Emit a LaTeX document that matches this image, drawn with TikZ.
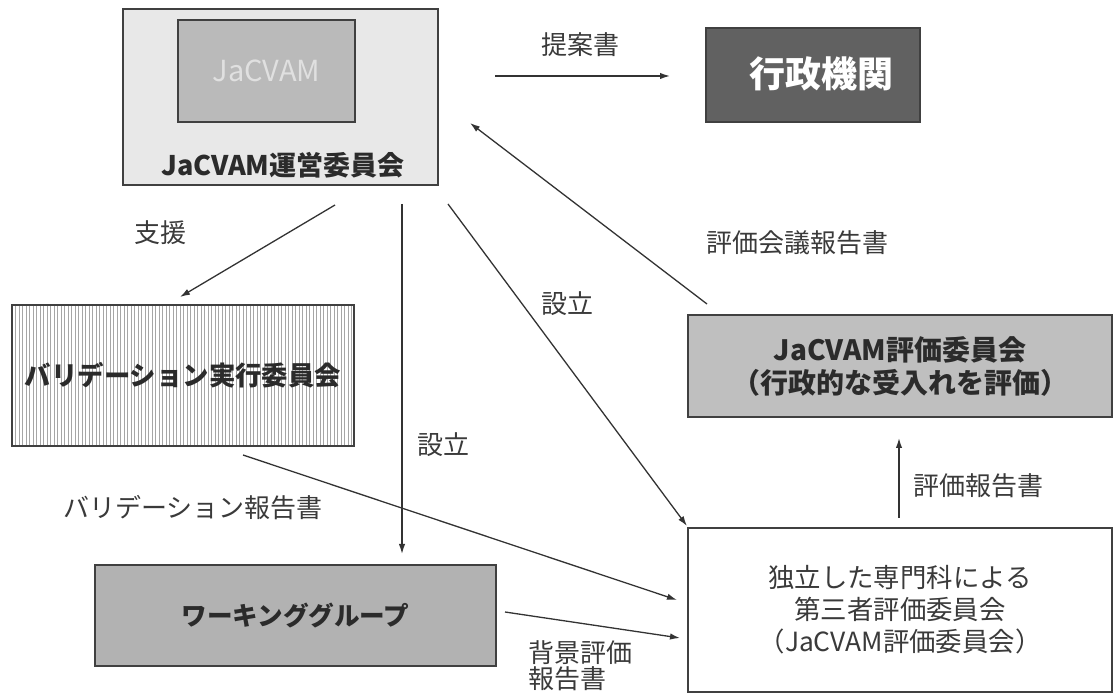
\documentclass[tikz,border=0pt]{standalone}
\usepackage{fontspec}
\setmainfont{Noto Sans CJK JP}
\usetikzlibrary{arrows.meta}
\definecolor{ink}{HTML}{2B2B2B}
\definecolor{lblink}{HTML}{3A3A3A}
\begin{document}
\begin{tikzpicture}[x=0.5pt,y=-0.5pt,
  every node/.style={inner sep=0pt, outer sep=0pt},
  box/.style={draw=black!75, line width=0.7pt},
  boldtxt/.style={font=\fontsize{13.5}{17}\selectfont\bfseries, text=ink, align=center},
  lbl/.style={font=\fontsize{13}{15}\selectfont, text=lblink},
  arr/.style={draw=black!80, line width=0.65pt, -{Latex[length=5pt,width=3.2pt]}},
  vlines/.style={path picture={
     \foreach \i in {1,...,98}
       \draw[black!35, line width=0.4pt]
         ([xshift=\i*1.75pt]path picture bounding box.north west) --
         ([xshift=\i*1.75pt]path picture bounding box.south west);}},
]
\useasboundingbox (0,0) rectangle (1116,700);

% boxes
\node[box, fill=black!9, minimum width=157.5pt, minimum height=88pt] (steer) at (280.5,97) {};
\node[box, fill=black!27, minimum width=88.5pt, minimum height=51pt,
      font=\fontsize{14.5}{16}\selectfont, text=black!12] (inner) at (266.5,71) {JaCVAM};
\node[boldtxt] (steerlbl) at (283,165) {JaCVAM運営委員会};

\node[box, fill=black!62, minimum width=107pt, minimum height=47pt] (gov) at (813,75) {};
\node[font=\fontsize{18}{20}\selectfont\bfseries, text=white] (govtxt) at (821,74) {行政機関};

\node[box, fill=white, vlines, minimum width=171pt, minimum height=70.5pt,
      boldtxt, font=\fontsize{13.2}{16}\selectfont\bfseries] (val) at (183,375.5) {バリデーション実行委員会};

\node[box, fill=black!30, minimum width=200.5pt, minimum height=50.5pt,
      boldtxt, font=\fontsize{12.8}{16}\selectfont\bfseries] (wg) at (295.5,615.5) {ワーキンググループ};

\node[box, fill=black!25, minimum width=212pt, minimum height=51pt,
      boldtxt, font=\fontsize{14}{16.5}\selectfont\bfseries] (eval) at (900,366)
      {JaCVAM評価委員会\\（行政的な受入れを評価）};

\node[box, fill=white, minimum width=212pt, minimum height=82pt, align=center,
      font=\fontsize{13.2}{16}\selectfont, text=lblink] (third) at (900,610)
      {独立した専門科による\\第三者評価委員会\\（JaCVAM評価委員会）};

% arrow endpoints
\coordinate (p1s) at (495,76);  \coordinate (p1e) at (670,76);
\coordinate (p2s) at (335,205); \coordinate (p2e) at (180,297);
\coordinate (p3s) at (402,204); \coordinate (p3e) at (402,554);
\coordinate (p4s) at (448,204); \coordinate (p4e) at (687,526);
\coordinate (p5s) at (707,304); \coordinate (p5e) at (470,123);
\coordinate (p6s) at (243,455); \coordinate (p6e) at (677,600);
\coordinate (p7s) at (505,612); \coordinate (p7e) at (680,638);
\coordinate (p8s) at (899,518); \coordinate (p8e) at (899,438);

\draw[arr] (p1s) -- (p1e);
\draw[arr] (p2s) -- (p2e);
\draw[arr] (p3s) -- (p3e);
\draw[arr] (p4s) -- (p4e);
\draw[arr] (p5s) -- (p5e);
\draw[arr] (p6s) -- (p6e);
\draw[arr] (p7s) -- (p7e);
\draw[arr] (p8s) -- (p8e);

% labels
\node[lbl] (l1) at (580,45) {提案書};
\node[lbl] (l2) at (160,233) {支援};
\node[lbl] (l3) at (443,445) {設立};
\node[lbl] (l4) at (567,304) {設立};
\node[lbl] (l5) at (797,243) {評価会議報告書};
\node[lbl] (l6) at (193,508) {バリデーション報告書};
\node[lbl, anchor=west, align=left, font=\fontsize{13}{13}\selectfont] (l7) at (528,666) {背景評価\\報告書};
\node[lbl] (l8) at (978,486) {評価報告書};
\end{tikzpicture}
\end{document}
